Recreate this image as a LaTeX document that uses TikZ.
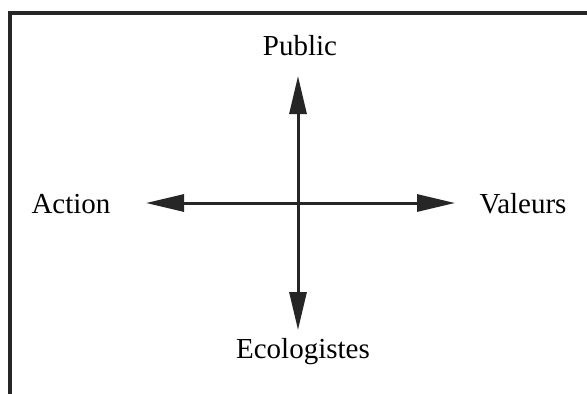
\documentclass[tikz,border=0pt]{standalone}
\usepackage{fontspec}
\setmainfont{Liberation Serif}
\usepackage{tikz}
\usetikzlibrary{arrows.meta}
\definecolor{traitnoir}{gray}{0.15}
\tikzset{
	axe/.style={traitnoir,line width=3pt,-{Triangle[length=38pt,width=17pt]}},
	cadre/.style={traitnoir,line width=3.2pt},
	etiquette/.style={anchor=base,inner sep=0pt,font=\fontsize{29}{34}\selectfont}
}
\begin{document}
\begin{tikzpicture}[x=1pt,y=-1pt]
				\useasboundingbox (0,0) rectangle (587,394);
				%\draw (0,0) grid (587,394);
				\draw[cadre] (589,13) -- (10,13) -- (10,396);
				\coordinate (o) at (298,203);
				\coordinate (pointeG) at (146,203);
				\coordinate (pointeD) at (455,203);
				\coordinate (pointeH) at (298,76);
				\coordinate (pointeB) at (298,330);
				\node[etiquette] (public) at (300,55) {Public};
				\node[etiquette] (action) at (71,213) {Action};
				\node[etiquette] (valeurs) at (523,213) {Valeurs};
				\node[etiquette] (ecolo) at (303,358) {Ecologistes};
				\draw[axe] (o) -- (pointeG);
				\draw[axe] (o) -- (pointeD);
				\draw[axe] (o) -- (pointeH);
				\draw[axe] (o) -- (pointeB);
			\end{tikzpicture}
\end{document}
